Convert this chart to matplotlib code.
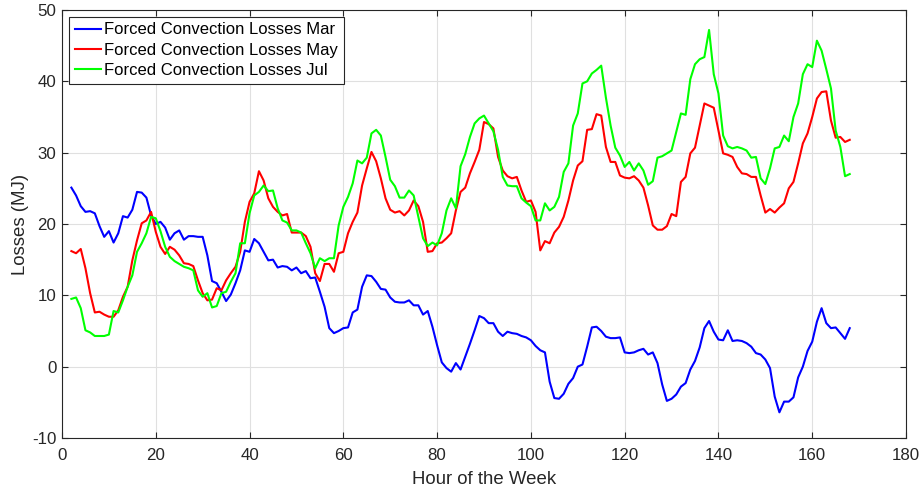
import numpy as np
import matplotlib
matplotlib.use("Agg")
import matplotlib.pyplot as plt

plt.rcParams['font.family'] = ['Liberation Sans', 'DejaVu Sans']
plt.rcParams['axes.unicode_minus'] = False

hours = np.arange(2, 169)

mar = [25.1, 24.0, 22.5, 21.7, 21.8, 21.5, 19.7, 18.2, 19.0, 17.4,
       18.7, 21.1, 20.9, 22.0, 24.5, 24.4, 23.7, 21.2, 20.0, 20.3,
       19.5, 17.8, 18.7, 19.1, 17.8, 18.3, 18.3, 18.2, 18.2, 15.6,
       12.0, 11.7, 10.5, 9.2, 10.1, 11.7, 13.5, 16.3, 16.1, 17.9,
       17.3, 16.1, 14.9, 15.0, 13.9, 14.1, 14.0, 13.5, 13.9, 13.1,
       13.4, 12.4, 12.5, 10.5, 8.4, 5.4, 4.7, 5.0, 5.4, 5.5,
       7.6, 8.0, 11.2, 12.8, 12.7, 11.9, 10.9, 10.8, 9.7, 9.1,
       9.0, 9.0, 9.3, 8.6, 8.6, 7.3, 7.8, 5.6, 3.0, 0.6,
       -0.2, -0.7, 0.5, -0.4, 1.4, 3.2, 5.1, 7.1, 6.8, 6.1,
       6.1, 4.9, 4.3, 4.9, 4.7, 4.6, 4.3, 4.1, 3.7, 2.9,
       2.3, 2.0, -2.1, -4.4, -4.5, -3.8, -2.4, -1.6, 0.0, 0.3,
       2.8, 5.5, 5.6, 5.0, 4.2, 4.0, 4.0, 4.1, 2.0, 1.9,
       2.0, 2.3, 2.5, 1.7, 2.0, 0.5, -2.5, -4.8, -4.5, -3.9,
       -2.8, -2.3, -0.4, 0.8, 2.7, 5.4, 6.4, 4.9, 3.8, 3.7,
       5.1, 3.6, 3.7, 3.6, 3.3, 2.8, 1.9, 1.7, 1.0, -0.2,
       -4.2, -6.4, -4.9, -4.9, -4.3, -1.5, 0.0, 2.2, 3.5, 6.3,
       8.2, 6.1, 5.4, 5.5, 4.7, 3.9, 5.4]

may = [16.2, 15.9, 16.5, 13.8, 10.3, 7.6, 7.7, 7.3, 7.0, 7.0,
       7.9, 9.8, 11.2, 14.9, 17.7, 20.1, 20.5, 21.7, 18.9, 16.8,
       15.8, 16.8, 16.4, 15.6, 14.5, 14.4, 14.1, 12.1, 10.3, 9.3,
       9.4, 11.0, 10.7, 12.1, 13.1, 14.0, 16.1, 20.3, 23.1, 24.3,
       27.4, 26.1, 23.6, 22.4, 21.7, 21.2, 21.4, 18.8, 18.8, 18.8,
       18.3, 16.8, 13.1, 12.0, 14.4, 14.4, 13.3, 15.9, 16.1, 18.7,
       20.3, 21.6, 25.4, 27.8, 30.1, 28.8, 26.4, 23.6, 22.0, 21.6,
       21.8, 21.2, 21.9, 23.3, 22.5, 20.3, 16.1, 16.2, 17.3, 17.4,
       18.0, 18.7, 21.9, 24.5, 25.1, 27.1, 28.7, 30.4, 34.3, 34.0,
       33.4, 29.4, 27.5, 26.7, 26.4, 26.6, 24.7, 23.1, 23.3, 21.7,
       16.3, 17.6, 17.3, 18.8, 19.6, 21.0, 23.3, 26.1, 28.2, 28.8,
       33.2, 33.3, 35.4, 35.2, 30.8, 28.7, 28.7, 26.8, 26.5, 26.4,
       26.7, 26.1, 25.1, 22.6, 19.8, 19.2, 19.2, 19.7, 21.4, 21.1,
       25.9, 26.6, 29.9, 30.7, 33.8, 36.9, 36.6, 36.3, 33.1, 29.9,
       29.7, 29.4, 28.0, 27.1, 27.0, 26.6, 26.6, 24.0, 21.6, 22.1,
       21.6, 22.3, 22.9, 25.0, 25.9, 28.5, 31.3, 32.7, 35.0, 37.6,
       38.5, 38.6, 34.5, 32.1, 32.2, 31.5, 31.8]

jul = [9.5, 9.7, 8.2, 5.1, 4.8, 4.3, 4.3, 4.3, 4.5, 7.8,
       7.6, 9.3, 11.2, 12.8, 16.1, 17.3, 18.7, 21.0, 20.8, 19.0,
       16.8, 15.4, 14.8, 14.4, 14.0, 13.8, 13.5, 10.7, 9.8, 10.3,
       8.3, 8.5, 10.3, 10.5, 11.9, 13.1, 17.3, 17.3, 21.5, 24.0,
       24.5, 25.4, 24.6, 24.7, 22.2, 20.5, 20.2, 19.1, 19.1, 18.8,
       17.3, 15.9, 13.8, 15.2, 14.8, 15.2, 15.2, 19.8, 22.4, 23.8,
       25.7, 28.9, 28.5, 29.3, 32.7, 33.2, 32.4, 29.4, 26.2, 25.3,
       23.7, 23.7, 24.7, 24.0, 21.0, 18.0, 16.9, 17.4, 17.0, 18.7,
       21.9, 23.6, 22.2, 28.1, 29.8, 32.2, 34.1, 34.8, 35.2, 34.1,
       33.0, 30.4, 26.6, 25.4, 25.3, 25.3, 23.6, 23.0, 22.5, 20.5,
       20.5, 22.9, 21.9, 22.4, 23.8, 27.3, 28.5, 33.8, 35.5, 39.7,
       40.0, 41.1, 41.6, 42.2, 37.7, 33.8, 30.7, 29.6, 28.0, 28.7,
       27.5, 28.5, 27.5, 25.5, 26.0, 29.3, 29.5, 29.9, 30.3, 32.9,
       35.5, 35.3, 40.3, 42.4, 43.1, 43.4, 47.2, 41.0, 38.3, 32.4,
       30.9, 30.6, 30.8, 30.6, 30.3, 29.3, 29.4, 26.4, 25.6, 27.8,
       30.6, 30.8, 32.4, 31.6, 35.0, 36.9, 41.0, 42.4, 42.0, 45.7,
       44.3, 41.7, 39.0, 33.1, 30.8, 26.7, 27.0]

labels = ["Forced Convection Losses Mar", "Forced Convection Losses May",
          "Forced Convection Losses Jul"]
colors = [(0, 0, 1), (1, 0, 0), (0, 1, 0)]
dark = (0.15, 0.15, 0.15)

fig = plt.figure(figsize=(9.21, 4.90), dpi=100)
ax = fig.add_axes([62/921, 1 - 438/490, 844/921, 428/490])

for data, lab, col in zip([mar, may, jul], labels, colors):
    ax.plot(hours, data, color=col, lw=1.5, label=lab)

ax.set_xlim(0, 180)
ax.set_ylim(-10, 50)
ax.set_xticks(np.arange(0, 181, 20))
ax.set_yticks(np.arange(-10, 51, 10))
ax.grid(True, color=(0.88, 0.88, 0.88), lw=0.8)
ax.set_axisbelow(True)
ax.tick_params(direction="in", top=True, right=True, length=4,
               labelsize=12.2, colors=dark)
ax.tick_params(axis="x", pad=7)
ax.tick_params(axis="y", pad=4)
for sp in ax.spines.values():
    sp.set_color(dark)
    sp.set_linewidth(0.8)
ax.set_xlabel("Hour of the Week", fontsize=13.4, color=dark, labelpad=6)
ax.set_ylabel("Losses (MJ)", fontsize=13.4, color=dark, labelpad=2)

leg = ax.legend(loc="upper left", fontsize=12, fancybox=False, framealpha=1,
                edgecolor=dark, handlelength=1.6,
                borderpad=0.35, labelspacing=0.32, handletextpad=0.2,
                borderaxespad=0.4)
leg.get_frame().set_linewidth(0.8)

fig.savefig("out.png", dpi=100)
